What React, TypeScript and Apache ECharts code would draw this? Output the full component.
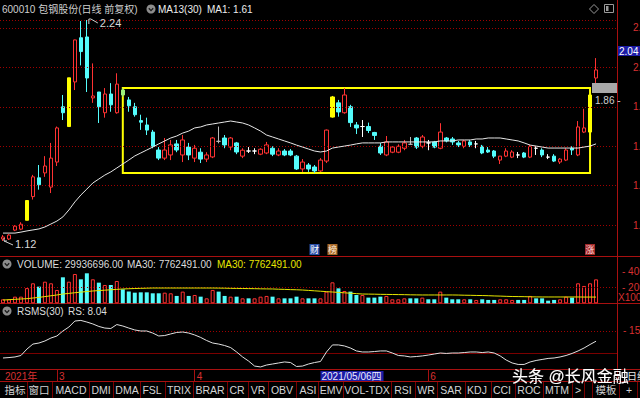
import React, { useEffect, useRef } from "react";
import * as echarts from "echarts";

// ---------- data ----------
const DATES = [
  "2021-02-09","2021-02-10","2021-02-18","2021-02-19","2021-02-22","2021-02-23","2021-02-24","2021-02-25","2021-02-26",
  "2021-03-01","2021-03-02","2021-03-03","2021-03-04","2021-03-05","2021-03-08","2021-03-09","2021-03-10","2021-03-11","2021-03-12",
  "2021-03-15","2021-03-16","2021-03-17","2021-03-18","2021-03-19","2021-03-22","2021-03-23","2021-03-24","2021-03-25","2021-03-26",
  "2021-03-29","2021-03-30","2021-03-31",
  "2021-04-01","2021-04-02","2021-04-06","2021-04-07","2021-04-08","2021-04-09","2021-04-12","2021-04-13","2021-04-14","2021-04-15",
  "2021-04-16","2021-04-19","2021-04-20","2021-04-21","2021-04-22","2021-04-23","2021-04-26","2021-04-27","2021-04-28","2021-04-29","2021-04-30",
  "2021-05-06","2021-05-07","2021-05-10","2021-05-11","2021-05-12","2021-05-13","2021-05-14","2021-05-17","2021-05-18","2021-05-19",
  "2021-05-20","2021-05-21","2021-05-24","2021-05-25","2021-05-26","2021-05-27","2021-05-28","2021-05-31",
  "2021-06-01","2021-06-02","2021-06-03","2021-06-04","2021-06-07","2021-06-08","2021-06-09","2021-06-10","2021-06-11","2021-06-15",
  "2021-06-16","2021-06-17","2021-06-18","2021-06-21","2021-06-22","2021-06-23","2021-06-24","2021-06-25","2021-06-28","2021-06-29","2021-06-30",
  "2021-07-01","2021-07-02","2021-07-05","2021-07-06","2021-07-07","2021-07-08","2021-07-09","2021-07-12",
];
const PAD_CATS = ["", "", ""];

// [open, close, low, high]
const CANDLES: number[][] = [
  [1.13,1.14,1.12,1.15],[1.13,1.15,1.125,1.155],[1.175,1.195,1.17,1.2],[1.18,1.205,1.175,1.215],[1.225,1.325,1.225,1.325],
  [1.345,1.445,1.33,1.455],[1.44,1.405,1.38,1.505],[1.465,1.5,1.445,1.55],[1.393,1.54,1.363,1.617],[1.52,1.693,1.5,1.7],
  [1.8,1.77,1.733,1.86],[1.7,1.947,1.7,1.947],[1.926,2.139,1.885,2.14],[2.15,2.08,2.01,2.235],[2.154,1.946,1.875,2.24],
  [1.845,1.855,1.82,2.02],[1.875,1.8,1.718,1.875],[1.77,1.865,1.745,1.895],[1.865,1.81,1.775,1.92],[1.77,1.915,1.765,1.97],
  [1.885,1.86,1.85,1.895],[1.835,1.805,1.775,1.85],[1.8,1.76,1.75,1.82],[1.73,1.722,1.683,1.76],[1.708,1.682,1.657,1.745],
  [1.672,1.6,1.59,1.683],[1.581,1.54,1.53,1.596],[1.54,1.581,1.53,1.642],[1.556,1.607,1.53,1.632],[1.612,1.581,1.57,1.632],
  [1.556,1.632,1.52,1.657],[1.596,1.556,1.53,1.617],[1.54,1.59,1.52,1.607],[1.57,1.535,1.515,1.59],[1.535,1.556,1.52,1.57],
  [1.546,1.642,1.54,1.647],[1.625,1.625,1.615,1.7],[1.642,1.607,1.59,1.657],[1.596,1.642,1.58,1.647],[1.617,1.571,1.56,1.622],
  [1.55,1.58,1.54,1.59],[1.576,1.576,1.566,1.596],[1.576,1.576,1.56,1.59],[1.56,1.585,1.555,1.59],[1.566,1.607,1.56,1.622],
  [1.59,1.56,1.55,1.6],[1.556,1.576,1.55,1.59],[1.576,1.556,1.55,1.586],[1.576,1.556,1.55,1.586],[1.55,1.485,1.48,1.556],
  [1.485,1.52,1.47,1.535],[1.505,1.485,1.47,1.515],[1.495,1.475,1.465,1.505],[1.475,1.53,1.47,1.54],[1.525,1.682,1.515,1.685],
  [1.748,1.85,1.745,1.855],[1.82,1.774,1.75,1.835],[1.77,1.86,1.765,1.895],[1.8,1.72,1.698,1.81],[1.708,1.693,1.662,1.723],
  [1.7,1.7,1.647,1.733],[1.7,1.68,1.667,1.72],[1.67,1.655,1.632,1.673],[1.6,1.566,1.556,1.617],[1.556,1.622,1.55,1.652],
  [1.57,1.596,1.565,1.6],[1.57,1.6,1.565,1.61],[1.59,1.617,1.58,1.632],[1.61,1.61,1.607,1.647],[1.642,1.596,1.586,1.647],
  [1.6,1.647,1.59,1.657],[1.617,1.617,1.58,1.632],[1.622,1.596,1.59,1.627],[1.59,1.672,1.585,1.717],[1.642,1.627,1.62,1.647],
  [1.637,1.622,1.607,1.647],[1.617,1.607,1.596,1.627],[1.6,1.627,1.59,1.632],[1.622,1.607,1.596,1.632],[1.612,1.612,1.59,1.627],
  [1.6,1.566,1.56,1.607],[1.581,1.571,1.566,1.596],[1.576,1.55,1.54,1.581],[1.53,1.55,1.51,1.55],[1.55,1.576,1.545,1.59],
  [1.545,1.571,1.54,1.58],[1.556,1.556,1.54,1.571],[1.566,1.545,1.54,1.571],[1.545,1.6,1.54,1.607],[1.59,1.59,1.556,1.6],
  [1.581,1.556,1.545,1.59],[1.545,1.545,1.535,1.56],[1.55,1.525,1.52,1.56],[1.52,1.535,1.51,1.54],[1.53,1.581,1.525,1.59],
  [1.59,1.581,1.556,1.6],[1.556,1.698,1.55,1.728],[1.672,1.693,1.667,1.79],[1.672,1.86,1.672,1.86],[1.946,1.987,1.91,2.047],
];
const LIMIT_UP = [4, 11, 55, 98];
const DOJI = [36, 41, 42, 60, 68, 71, 79, 86, 89, 91];
const GREENISH = [20];

const PRICE_MA = [
  1.16,1.16,1.16,1.165,1.171,1.176,1.181,1.191,1.206,1.221,
  1.242,1.277,1.318,1.353,1.383,1.414,1.434,1.454,1.47,1.49,
  1.51,1.53,1.551,1.566,1.581,1.596,1.612,1.627,1.642,1.652,
  1.667,1.677,1.693,1.698,1.708,1.713,1.718,1.723,1.728,1.723,
  1.718,1.708,1.693,1.677,1.657,1.647,1.637,1.627,1.617,1.606,
  1.596,1.586,1.576,1.571,1.576,1.591,1.596,1.601,1.606,1.612,
  1.617,1.617,1.617,1.617,1.622,1.622,1.622,1.622,1.622,1.622,
  1.622,1.622,1.622,1.627,1.627,1.627,1.632,1.632,1.632,1.637,
  1.637,1.642,1.642,1.642,1.637,1.632,1.627,1.617,1.606,1.601,
  1.596,1.591,1.591,1.591,1.591,1.591,1.591,1.596,1.601,1.612,
];

const VOLUME = [
  50,50,83,83,190,250,208,270,250,167,
  325,270,366,300,375,300,258,229,229,279,
  175,146,133,137,137,125,125,133,125,92,
  146,92,104,83,62,167,146,92,83,83,
  62,62,62,83,92,83,62,62,62,83,
  62,62,62,62,146,262,187,154,146,104,
  104,71,71,83,92,50,50,62,62,62,
  71,50,50,146,71,50,50,50,50,42,
  50,42,42,50,50,42,42,42,92,62,
  62,33,42,50,83,71,250,217,250,299.4,
];
const VOL_MA30 = [
  41,45,50,54,58,66,74,84,94,104,
  116,124,132,140,147,154,159,164,169,174,
  179,182,185,187,189,191,191,191,191,191,
  191,191,191,191,191,191,190,189,187,186,
  185,184,183,181,180,179,176,174,171,169,
  166,161,156,151,146,141,136,131,126,121,
  116,115,114,112,111,110,109,108,106,105,
  104,104,104,104,104,104,103,101,100,98,
  97,95,92,90,87,85,84,83,81,80,
  79,79,79,79,79,79,79,78,78,77.6,
];
const RS = [
  -3.4,-3.1,-2.7,-1.7,2.7,6.1,6.8,8.2,10.2,11.6,
  15.0,17.7,21.8,22.2,21.1,19.8,18.1,17.0,16.7,19.4,
  18.4,17.0,15.7,15.0,15.0,13.6,11.6,11.9,13.0,14.0,
  14.3,13.6,12.3,10.6,8.5,6.8,6.1,5.1,3.7,0.7,
  -2.7,-5.5,-8.9,-9.5,-8.2,-7.5,-6.8,-6.1,-6.5,-9.2,
  -8.9,-7.5,-6.5,-5.8,0.7,5.5,5.5,4.8,3.4,1.4,
  0.7,0.7,1.0,1.4,1.4,0,-1.7,-2.0,-2.7,-2.4,
  -2.0,-1.4,-0.7,0,-0.3,0,0,0.3,0.7,0.7,
  0.3,0.7,0,-2.0,-4.8,-6.8,-7.8,-7.8,-6.1,-5.1,
  -4.4,-3.7,-3.4,-2.7,-1.7,-0.3,1.4,3.4,5.8,8.04,
];

const PRICE_TICKS = [1.2, 1.4, 1.6, 1.8, 2.0, 2.2];
const VOL_TICKS = [200, 400];
const VOL_GRID_LINES = [200];
const RS_TICKS = [15];
const RS_ZERO = 0;
const HIGH_IDX = 14, HIGH_VAL = 2.24, LOW_IDX = 0, LOW_VAL = 1.12;
const BOX = { from: 20, to: 98, top: 1.895, bottom: 1.465 };
const CROSS_IDX = 53;
const CROSS_LABEL = "2021/05/06四";
const REF_PRICE = 1.86;

const TITLE = "600010 包钢股份(日线 前复权)";
const MA_TITLE = "MA13(30)";
const MA_VALUE = "MA1: 1.61";
const VOL_TITLE = "VOLUME: 29936696.00";
const VOL_MA_W = "MA30: 7762491.00";
const VOL_MA_Y = "MA30: 7762491.00";
const RS_TITLE = "RSMS(30)";
const RS_VALUE = "RS: 8.04";
const TOOLBAR_LABELS = ["指标","窗口","MACD","DMI","DMA","FSL","TRIX","BRAR","CR","VR","OBV","ASI","EMV","VOL-TDX","RSI","WR","SAR","KDJ","CCI","ROC","MTM",">","","模板","+"];
const BADGES = [
  { idx: 52, text: "财", bg: "#2b4fa8", fg: "#ffffff" },
  { idx: 55, text: "榜", bg: "#a86a2a", fg: "#fff0dc" },
  { idx: 98, text: "涨", bg: "#a02828", fg: "#ffd8d8" },
];

// ---------- layout / style ----------
const TOOLBAR_CENTERS = [15,39,71,101,127,152,179,210,237,258,282,308,331,367,403,426,451,477,502,529,557,578,588,606,629];
const TOOLBAR_SEPS = [27,52,89,113,140,165,193,227,248,268,296,318,343,391,415,437,465,491,515,543,572,584,592,619,637];
const FONT = 'Arial, "Liberation Sans", "Noto Sans CJK SC", sans-serif';
const UP = "#ff3232";
const DOWN = "#54fcfc";
const YEL = "#ffff00";
const LINE_RED = "#a81010";
const DOT_RED = "#a00000";
const LABEL_RED = "#d83030";
const PLOT_R = 617;

export default function App() {
  const ref = useRef<HTMLDivElement>(null);
  useEffect(() => {
    document.body.style.margin = "0";
    document.body.style.background = "#000";
    const chart = echarts.init(ref.current!, undefined, { renderer: "svg", width: 640, height: 398 });
    const cats = [...DATES, ...PAD_CATS];

    const isUp = (i: number) => {
      const [o, c] = CANDLES[i];
      if (GREENISH.includes(i)) return false;
      if (c !== o) return c > o;
      return i === 0 || c >= CANDLES[i - 1][1];
    };
    const candleData = CANDLES.map((c, i) => {
      let col: string | null = null;
      if (LIMIT_UP.includes(i)) col = YEL;
      else if (DOJI.includes(i)) col = i === 36 || i === 68 ? "#b8b8b8" : "#ffffff";
      else if (GREENISH.includes(i)) col = "#9cf07a";
      if (col) return { value: c, itemStyle: { color: col, color0: col, borderColor: col, borderColor0: col } };
      return { value: c };
    });
    const volData = VOLUME.map((v, i) =>
      isUp(i)
        ? { value: v, itemStyle: { color: "#000", borderColor: UP, borderWidth: 1 } }
        : { value: v, itemStyle: { color: DOWN, borderColor: DOWN, borderWidth: 0 } }
    );
    const monthStart = (i: number) =>
      i > 0 && i < DATES.length && DATES[i].slice(5, 7) !== DATES[i - 1].slice(5, 7);
    const visibleMonth = (i: number) => monthStart(i) && DATES[i].slice(5, 7) !== "07";

    const hiddenX = (g: number) => ({
      type: "category", gridIndex: g, data: cats, show: false, boundaryGap: true,
    });

    const option: any = {
      animation: false,
      backgroundColor: "#000",
      textStyle: { fontFamily: FONT },
      grid: [
        { left: 0, width: PLOT_R, top: 20, height: 236 },
        { left: 0, width: PLOT_R, top: 257, height: 46.3 },
        { left: 0, width: PLOT_R, top: 304, height: 65 },
      ],
      xAxis: [
        hiddenX(0),
        hiddenX(1),
        {
          type: "category", gridIndex: 2, data: cats, boundaryGap: true, position: "bottom",
          axisLine: { show: true, onZero: false, lineStyle: { color: LINE_RED } },
          axisTick: {
            show: true, inside: false, alignWithLabel: true, length: 12,
            interval: (i: number) => visibleMonth(i) && i !== CROSS_IDX,
            lineStyle: { color: LINE_RED },
          },
          axisLabel: {
            show: true, margin: 2, align: "left", fontSize: 10, color: LABEL_RED,
            interval: (i: number) => i === 0 || i === CROSS_IDX || visibleMonth(i),
            formatter: (v: string, i: number) => {
              if (i === CROSS_IDX) return `{hl|${CROSS_LABEL}}`;
              if (i === 0) return `{m|${v.slice(0, 4)}年}`;
              return `{m|${Number(v.slice(5, 7))}}`;
            },
            rich: {
              hl: { backgroundColor: "#1c1ca6", color: "#ececff", fontSize: 10, fontFamily: FONT, padding: [1, 2, 0, 1] },
              m: { color: LABEL_RED, fontSize: 10, fontFamily: FONT, padding: [0, 0, 0, 2] },
            },
          },
        },
      ],
      yAxis: [
        { type: "value", gridIndex: 0, min: 2.24 - 236 / 197.3, max: 2.24, show: false, splitLine: { show: false } },
        { type: "value", gridIndex: 1, min: 0, max: 46.3 / 0.08, show: false, splitLine: { show: false } },
        { type: "value", gridIndex: 2, min: -16 / 1.467, max: 49 / 1.467, show: false, splitLine: { show: false } },
      ],
      series: [
        {
          type: "candlestick", xAxisIndex: 0, yAxisIndex: 0, data: candleData, barWidth: 4,
          itemStyle: { color: "#000", color0: DOWN, borderColor: UP, borderColor0: DOWN, borderWidth: 1 },
          markLine: {
            silent: true, symbol: ["none", "none"], animation: false,
            lineStyle: { color: DOT_RED, type: [1, 2], width: 1 },
            label: { show: true, position: "end", distance: 16, color: LABEL_RED, fontSize: 10, fontFamily: FONT,
              formatter: (p: any) => Number(p.value).toFixed(2) },
            data: PRICE_TICKS.map((v) => ({ yAxis: v })),
          },
          markArea: {
            silent: true,
            itemStyle: { color: "rgba(0,0,0,0)", borderColor: YEL, borderWidth: 2 },
            data: [[{ coord: [BOX.from, BOX.top] }, { coord: [BOX.to, BOX.bottom] }]],
          },
        },
        {
          type: "line", xAxisIndex: 0, yAxisIndex: 0, data: PRICE_MA, showSymbol: false, symbol: "none",
          lineStyle: { color: "#e6e6e6", width: 1 }, z: 5,
        },
        {
          type: "bar", xAxisIndex: 1, yAxisIndex: 1, data: volData, barWidth: 4,
          markLine: {
            silent: true, symbol: ["none", "none"], animation: false,
            label: { show: true, position: "end", distance: 5, color: LABEL_RED, fontSize: 10, fontFamily: FONT,
              formatter: (p: any) => `- ${p.value}` },
            data: VOL_TICKS.map((v) => ({
              yAxis: v,
              lineStyle: VOL_GRID_LINES.includes(v)
                ? { color: DOT_RED, type: [1, 2], width: 1 }
                : { color: "rgba(0,0,0,0)", width: 1 },
              label: { show: true, color: LABEL_RED },
            })),
          },
        },
        {
          type: "line", xAxisIndex: 1, yAxisIndex: 1, data: VOL_MA30, showSymbol: false, symbol: "none",
          lineStyle: { color: "#e6e600", width: 1 }, z: 5,
        },
        {
          type: "line", xAxisIndex: 2, yAxisIndex: 2, data: RS, showSymbol: false, symbol: "none",
          lineStyle: { color: "#e0e0e0", width: 1 }, z: 5,
          markLine: {
            silent: true, symbol: ["none", "none"], animation: false,
            data: [
              ...RS_TICKS.map((v) => ({
                yAxis: v, lineStyle: { color: DOT_RED, type: [1, 2], width: 1 },
                label: { show: true, position: "end", distance: 6, color: LABEL_RED, fontSize: 10, fontFamily: FONT,
                  formatter: (p: any) => `- ${p.value}` },
              })),
              { yAxis: RS_ZERO, lineStyle: { color: "#7a0000", type: "solid", width: 1 }, label: { show: false } },
            ],
          },
        },
      ],
    };
    chart.setOption(option);

    const px = (i: number, v: number) => chart.convertToPixel({ gridIndex: 0 } as any, [i, v]) as number[];
    const txt = (text: string, x: number, y: number, fill: string, size = 10, align = "left", z = 10) => ({
      type: "text", x, y, z,
      style: { text, fill, font: `${size}px ${FONT}`, textAlign: align, textVerticalAlign: "middle", align, verticalAlign: "middle" },
    });
    const ln = (x1: number, y1: number, x2: number, y2: number, stroke: string, z = 1, dash?: number[]) => ({
      type: "line", z, shape: { x1, y1, x2, y2 }, style: { stroke, lineWidth: 1, lineDash: dash || null },
    });
    const icon = (cx: number, cy: number) => [
      { type: "circle", z: 10, shape: { cx, cy, r: 4.5 }, style: { fill: "#8c8c8c" } },
      { type: "polyline", z: 11, shape: { points: [[cx - 2.2, cy - 0.8], [cx, cy + 1.6], [cx + 2.2, cy - 0.8]] }, style: { stroke: "#1a1a1a", lineWidth: 1.3, fill: null } },
    ];

    const g: any[] = [];
    // separators
    g.push(ln(0, 20.5, PLOT_R, 20.5, DOT_RED, 1, [1, 2]));
    g.push(ln(0, 256.5, 640, 256.5, LINE_RED));
    g.push(ln(0, 303.5, 640, 303.5, LINE_RED));
    g.push(ln(0, 369.5, 640, 369.5, LINE_RED));
    g.push(ln(0, 381.5, 640, 381.5, LINE_RED));
    g.push(ln(PLOT_R + 0.5, 0, PLOT_R + 0.5, 381.5, LINE_RED, 3));
    // headers
    g.push(txt(TITLE, 2, 9, "#cfcfcf"));
    g.push(...icon(151, 9));
    g.push(txt(MA_TITLE, 158, 9, "#ececec"));
    g.push(txt(MA_VALUE, 207, 9, "#ececec"));
    g.push(...icon(7, 264));
    g.push(txt(VOL_TITLE, 17, 264, "#dcdcdc"));
    g.push(txt(VOL_MA_W, 127, 264, "#dcdcdc"));
    g.push(txt(VOL_MA_Y, 217, 264, "#e6e600"));
    g.push(...icon(7, 311));
    g.push(txt(RS_TITLE, 17, 311, "#dcdcdc"));
    g.push(txt(RS_VALUE, 68, 311, "#dcdcdc"));
    // top-right icons
    g.push({ type: "polygon", z: 10, shape: { points: [[594, 4.5], [598.5, 9], [594, 13.5], [589.5, 9]] }, style: { stroke: "#9a9a9a", fill: null, lineWidth: 1 } });
    g.push({ type: "rect", z: 10, shape: { x: 604.5, y: 4.5, width: 9, height: 8 }, style: { stroke: "#9a9a9a", fill: null, lineWidth: 1 } });
    g.push({ type: "rect", z: 10, shape: { x: 606, y: 6, width: 2.5, height: 5 }, style: { fill: "#9a9a9a" } });
    // volume unit
    g.push(txt("X100", 618, 297.5, LABEL_RED));
    // high / low markers
    const hp = px(HIGH_IDX, HIGH_VAL);
    g.push({ type: "polyline", z: 10, shape: { points: [[hp[0] + 2, hp[1] + 4], [hp[0] + 2, hp[1] - 1], [hp[0] + 4, hp[1] - 1], [hp[0] + 11, hp[1] + 3]] }, style: { stroke: "#cfcfcf", lineWidth: 1, fill: null } });
    g.push(txt(HIGH_VAL.toFixed(2), hp[0] + 13, hp[1] + 3, "#d8d8d8", 11));
    const lp = px(LOW_IDX, LOW_VAL);
    g.push({ type: "polyline", z: 10, shape: { points: [[lp[0] + 1, lp[1] - 3], [lp[0] + 1, lp[1]], [lp[0] + 4, lp[1]]] }, style: { stroke: "#cfcfcf", lineWidth: 1, fill: null } });
    g.push(ln(lp[0] + 1, lp[1], lp[0] + 10, lp[1] + 4, "#cfcfcf", 10));
    g.push(txt(LOW_VAL.toFixed(2), lp[0] + 12, lp[1] + 3, "#d8d8d8", 11));
    // reference price tag
    const rp = px(99, REF_PRICE);
    g.push({ type: "rect", z: 10, shape: { x: 592, y: rp[1] - 12, width: PLOT_R - 592, height: 10 }, style: { fill: "#a8a8a8" } });
    g.push(txt(`${REF_PRICE.toFixed(2)} -`, 595, rp[1] + 6, "#cfcfcf"));
    // cursor price tag on axis
    g.push({ type: "rect", z: 10, shape: { x: PLOT_R + 1, y: 46, width: 640 - PLOT_R, height: 10 }, style: { fill: "#1c1ca6" } });
    g.push(txt("2.04", PLOT_R + 2, 51, "#ffffff"));
    // badges
    BADGES.forEach((b) => {
      const p = px(b.idx, 1.2);
      g.push({ type: "rect", z: 10, shape: { x: p[0] - 5, y: 244, width: 10, height: 11 }, style: { fill: b.bg } });
      g.push(txt(b.text, p[0], 249.5, b.fg, 9, "center", 11));
    });
    // toolbar
    TOOLBAR_LABELS.forEach((t, i) => { if (t) g.push(txt(t, TOOLBAR_CENTERS[i], 390, "#d4d4d4", 10.5, "center")); });
    TOOLBAR_SEPS.forEach((x) => g.push(ln(x + 0.5, 382, x + 0.5, 398, "#7a0000")));
    // watermark
    g.push({
      type: "text", x: 512, y: 376, z: 100,
      style: { text: "头条 @长风金融", fill: "#ffffff", font: `16px ${FONT}`, textVerticalAlign: "middle", verticalAlign: "middle",
        textShadowColor: "#000", textShadowBlur: 2 },
    });
    g.push(txt("日线", 627, 376, "#e6e6e6", 10, "left", 100));

    chart.setOption({ graphic: { elements: g } });
    return () => chart.dispose();
  }, []);
  return <div ref={ref} style={{ position: "absolute", left: 0, top: 0, width: 640, height: 398, background: "#000" }} />;
}
